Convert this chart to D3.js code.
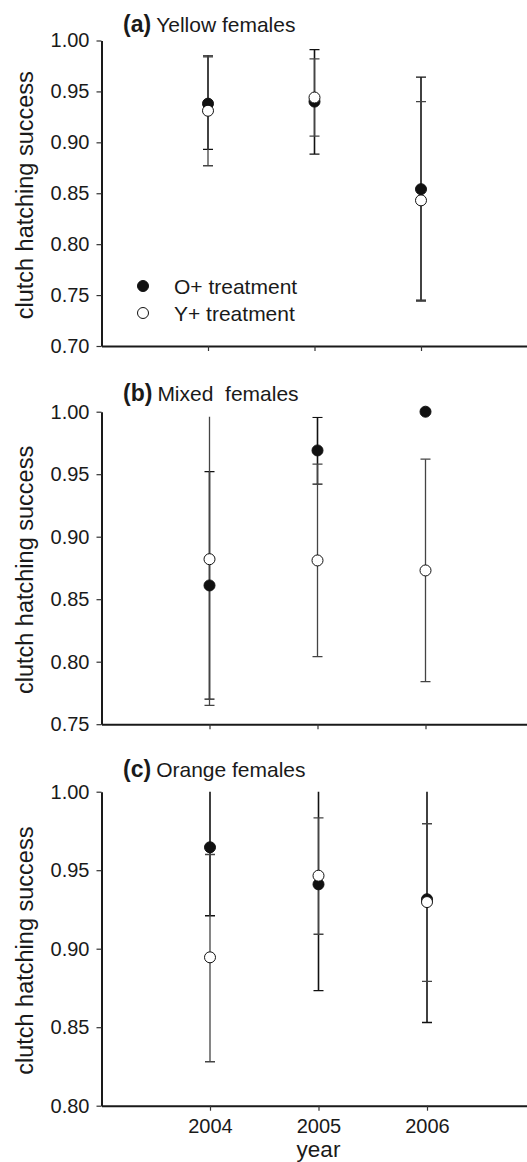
<!DOCTYPE html>
<html>
<head>
<meta charset="utf-8">
<script src="https://cdn.jsdelivr.net/npm/d3@7"></script>
<style>
  body { margin: 0; background: #fff; }
  svg { display: block; font-family: "Liberation Sans", Arial, sans-serif; }
</style>
</head>
<body>
<svg id="chart" width="527" height="1162"></svg>
<script>
// categories
const years = [2004, 2005, 2006];

// (a) Yellow females
const aO = [0.938, 0.940, 0.854];
const aOlo = [0.893, 0.8885, 0.745];
const aOhi = [0.985, 0.991, 0.964];
const aY = [0.931, 0.944, 0.843];
const aYlo = [0.877, 0.906, 0.744];
const aYhi = [0.984, 0.982, 0.940];

// (b) Mixed females
const bO = [0.861, 0.969, 1.000];
const bOlo = [0.770, 0.942, null];
const bOhi = [0.952, 0.9955, null];
const bY = [0.882, 0.881, 0.873];
const bYlo = [0.765, 0.804, 0.784];
const bYhi = [0.999, 0.958, 0.962];

// (c) Orange females
const cO = [0.9646, 0.941, 0.9315];
const cOlo = [0.921, 0.8733, 0.853];
const cOhi = [1.008, 1.009, 1.010];
const cY = [0.8945, 0.9465, 0.9297];
const cYlo = [0.828, 0.9092, 0.8792];
const cYhi = [0.960, 0.9833, 0.9796];

const yTicksA = [0.70, 0.75, 0.80, 0.85, 0.90, 0.95, 1.00];
const yTicksB = [0.75, 0.80, 0.85, 0.90, 0.95, 1.00];
const yTicksC = [0.80, 0.85, 0.90, 0.95, 1.00];

const legendLabels = ["O+ treatment", "Y+ treatment"];

const svg = d3.select("#chart");
const left = 101.5;

const panels = [
  { tag: "(a)", name: "Yellow females", yDom: [0.70, 1.00], yRange: [346, 40.5], step: 106.5,
    ticks: yTicksA, clipMax: 1.0, titleY: 32, O: aO, Olo: aOlo, Ohi: aOhi, Y: aY, Ylo: aYlo, Yhi: aYhi, legend: true },
  { tag: "(b)", name: "Mixed\u00a0 females", yDom: [0.75, 1.00], yRange: [724.2, 411.7], step: 108,
    ticks: yTicksB, clipMax: 0.996, titleY: 401, O: bO, Olo: bOlo, Ohi: bOhi, Y: bY, Ylo: bYlo, Yhi: bYhi },
  { tag: "(c)", name: "Orange females", yDom: [0.80, 1.00], yRange: [1105.7, 791.7], step: 108.5,
    ticks: yTicksC, clipMax: 1.0, titleY: 777, O: cO, Olo: cOlo, Ohi: cOhi, Y: cY, Ylo: cYlo, Yhi: cYhi, xLabels: true }
];

panels.forEach((p, pi) => {
  const g = svg.append("g");
  const y = d3.scaleLinear().domain(p.yDom).range(p.yRange);
  const x = d3.scaleLinear().domain([2003, 2007]).range([left, left + 4 * p.step]);

  // axes
  const yAxis = d3.axisLeft(y).tickValues(p.ticks).tickFormat(d3.format(".2f"))
    .tickSizeInner(5).tickSizeOuter(0).tickPadding(7);
  const yg = g.append("g").attr("transform", `translate(${left},0)`).call(yAxis);

  const xAxis = d3.axisBottom(x).tickValues(years).tickSizeInner(5).tickSizeOuter(0).tickPadding(8)
    .tickFormat(p.xLabels ? d3.format("d") : () => "");
  const xg = g.append("g").attr("transform", `translate(0,${p.yRange[0]})`).call(xAxis);

  [yg, xg].forEach(ax => {
    ax.select(".domain").attr("stroke", "#1a1a1a").attr("stroke-width", 2);
    ax.selectAll(".tick line").attr("stroke", "#333").attr("stroke-width", 1.2);
    ax.selectAll(".tick text").attr("fill", "#1a1a1a").style("font-size", "20px")
      .style("font-family", '"Liberation Sans", Arial, sans-serif');
  });

  // y title
  const yc = (p.yRange[0] + p.yRange[1]) / 2 + 2;
  g.append("text")
    .attr("transform", `translate(33,${yc}) rotate(-90)`)
    .attr("text-anchor", "middle")
    .attr("fill", "#1a1a1a")
    .style("font-size", "23.5px")
    .text("clutch hatching success");

  // panel title
  const t = g.append("text").attr("x", 123).attr("y", p.titleY).attr("fill", "#1a1a1a");
  t.append("tspan").style("font-weight", "bold").style("font-size", "23px").text(p.tag);
  t.append("tspan").attr("dx", 5).style("font-size", "21px").text(p.name);

  if (p.xLabels) {
    g.append("text")
      .attr("x", x(2005)).attr("y", 1157)
      .attr("text-anchor", "middle").attr("fill", "#1a1a1a")
      .style("font-size", "22.5px").text("year");
  }

  // error bars (clipped at panel top)
  const clipId = "clip" + pi;
  g.append("clipPath").attr("id", clipId).append("rect")
    .attr("x", 0).attr("width", 527)
    .attr("y", y(p.clipMax)).attr("height", y(p.yDom[0]) - y(p.clipMax) + 2);

  const series = [
    { v: p.O, lo: p.Olo, hi: p.Ohi, stroke: "#111", sw: 1.6, fill: "#111" },
    { v: p.Y, lo: p.Ylo, hi: p.Yhi, stroke: "#444", sw: 1.3, fill: "#fff" }
  ];

  const bars = g.append("g").attr("clip-path", `url(#${clipId})`);
  series.forEach(s => {
    years.forEach((yr, i) => {
      if (s.lo[i] == null) return;
      const cx = x(yr);
      bars.append("line")
        .attr("x1", cx).attr("x2", cx)
        .attr("y1", y(s.lo[i])).attr("y2", y(s.hi[i]))
        .attr("stroke", s.stroke).attr("stroke-width", s.sw);
      [s.lo[i], s.hi[i]].forEach(b => {
        if (b > p.clipMax) return;
        bars.append("line")
          .attr("x1", cx - 5).attr("x2", cx + 5)
          .attr("y1", y(b)).attr("y2", y(b))
          .attr("stroke", s.stroke).attr("stroke-width", 1.3);
      });
    });
  });

  series.forEach(s => {
    g.append("g").selectAll("circle").data(years).join("circle")
      .attr("cx", d => x(d))
      .attr("cy", (d, i) => y(s.v[i]))
      .attr("r", 5.5)
      .attr("fill", s.fill)
      .attr("stroke", "#111").attr("stroke-width", 1);
  });

  if (p.legend) {
    const lg = g.append("g");
    legendLabels.forEach((lab, i) => {
      const ly = 286 + i * 27;
      lg.append("circle").attr("cx", 143).attr("cy", ly).attr("r", 5.5)
        .attr("fill", series[i].fill).attr("stroke", "#111").attr("stroke-width", 1);
      lg.append("text").attr("x", 174).attr("y", ly).attr("dy", "0.36em")
        .attr("fill", "#1a1a1a").style("font-size", "21px").text(lab);
    });
  }
});
</script>
</body>
</html>
